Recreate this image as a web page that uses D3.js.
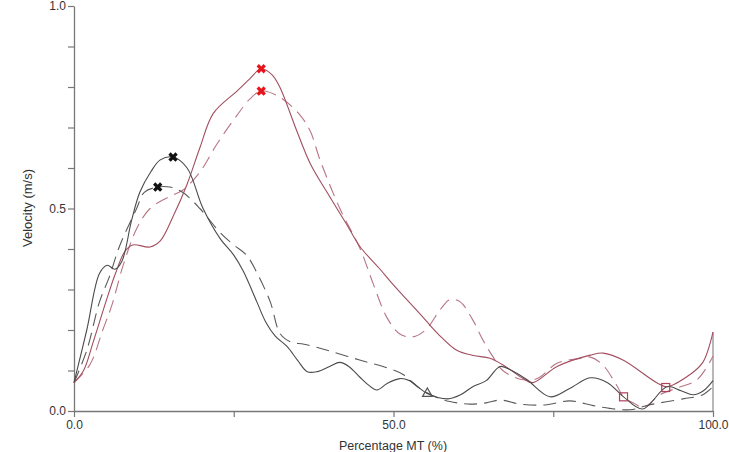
<!DOCTYPE html>
<html><head><meta charset="utf-8">
<script src="https://cdn.jsdelivr.net/npm/d3@7"></script>
<style>body{margin:0;background:#fff}svg{display:block}text{font-family:"Liberation Sans",Arial,sans-serif;fill:#333}</style>
</head><body><div id="chart"></div>
<script>
const pctMT_blackSolid = [0,2,4,5.2,6.4,7.5,9,10.3,12,13.5,15.5,17.7,20.2,22.9,25,26.5,28.6,30,31.5,33.3,35,36.5,38,40,41.6,43,44.7,46,47.4,49,51,52.5,55.2,58.5,60.5,62.4,64.5,66.7,68.5,70.9,74.5,77.5,80.8,83.5,86,89,92.8,95,96.9,98.5,100];
const vel_blackSolid   = [0.07,0.2,0.34,0.36,0.35,0.37,0.47,0.54,0.59,0.62,0.627,0.60,0.50,0.425,0.385,0.345,0.27,0.22,0.185,0.16,0.125,0.097,0.097,0.11,0.12,0.11,0.084,0.065,0.052,0.068,0.08,0.075,0.044,0.03,0.04,0.06,0.075,0.11,0.1,0.077,0.035,0.055,0.082,0.07,0.035,0.005,0.06,0.05,0.04,0.05,0.075];

const pctMT_blackDashed = [0,2,4,5.5,7.2,9.8,11,13.1,15,17,19.7,22.9,25,27,28.5,30.7,32.3,34,36,39.6,44.7,49.5,51.5,54,57.3,60,62,64.5,66.7,69.8,73.7,77.6,80,82.3,87,90,95.3,98.4,100];
const vel_blackDashed   = [0.07,0.15,0.27,0.33,0.41,0.50,0.54,0.553,0.553,0.54,0.50,0.44,0.41,0.385,0.345,0.27,0.19,0.17,0.165,0.15,0.126,0.104,0.09,0.057,0.03,0.02,0.017,0.02,0.027,0.017,0.015,0.025,0.018,0.01,0.003,0.015,0.03,0.04,0.06];

const pctMT_redSolid = [0,1.5,3,5,6.5,8,9.2,11.9,13.5,15.5,17.7,19.7,21.8,25.5,27.5,29.3,31,32.2,34.9,37,39.6,42.7,44.8,47.9,49.5,51.5,54.6,57,59.9,62.5,65.1,67.5,70.3,71.8,75.6,80.8,82.8,85.9,91.2,92.8,96.4,98.4,100];
const vel_redSolid   = [0.07,0.1,0.17,0.27,0.34,0.395,0.41,0.405,0.42,0.48,0.56,0.65,0.735,0.79,0.82,0.845,0.83,0.80,0.69,0.61,0.54,0.46,0.405,0.35,0.32,0.285,0.232,0.19,0.15,0.137,0.13,0.11,0.08,0.07,0.11,0.138,0.143,0.126,0.07,0.06,0.09,0.12,0.195];

const pctMT_redDashed = [0,2.5,4.5,5.9,7.7,9.8,11.9,15,17,19.7,22.4,25.5,27.5,29.3,32.2,35.4,37,38.5,41.6,44.8,46.8,49,51,53,55,57.3,58.8,60.4,62.4,64,65.6,67.1,70.3,72.5,75.6,79.2,80.8,82.8,84.9,86,88.1,89,91.7,94.4,97.5,100];
const vel_redDashed   = [0.07,0.115,0.2,0.26,0.36,0.45,0.50,0.53,0.545,0.59,0.66,0.73,0.77,0.79,0.775,0.73,0.69,0.62,0.50,0.40,0.315,0.23,0.19,0.183,0.2,0.25,0.275,0.27,0.225,0.175,0.133,0.10,0.077,0.08,0.118,0.13,0.133,0.113,0.064,0.035,0.015,0.007,0.04,0.057,0.077,0.135];

const peakX_pct = [15.5,13.1];      const peakX_vel = [0.627,0.553];   // black peaks
const peakR_pct = [29.3,29.3];      const peakR_vel = [0.845,0.79];    // red peaks
const tri_pct = [55.3];             const tri_vel = [0.043];
const sq_pct = [86,92.6];           const sq_vel = [0.035,0.058];

const xTickVals = [0,25,50,75,100];
const xTickLabels = ["0.0","","50.0","","100.0"];
const yTickVals = [0,0.1,0.2,0.3,0.4,0.5,0.6,0.7,0.8,0.9,1.0];
const yTickLabels = ["0.0","","","","","0.5","","","","","1.0"];

const W=729,H=452;
const x = d3.scaleLinear().domain([0,100]).range([74,713]);
const y = d3.scaleLinear().domain([0,1]).range([411,6]);
const svg = d3.select("#chart").append("svg").attr("width",W).attr("height",H);

const yAxis = d3.axisLeft(y).tickValues(yTickVals).tickFormat((d,i)=>yTickLabels[i]).tickSize(6).tickSizeOuter(0);
const gy = svg.append("g").attr("transform","translate(74,0)").call(yAxis);
const xAxis = d3.axisBottom(x).tickValues(xTickVals).tickFormat((d,i)=>xTickLabels[i]).tickSize(6).tickSizeOuter(0);
const gx = svg.append("g").attr("transform","translate(0,411)").call(xAxis);
[gx,gy].forEach(g=>{
  g.select(".domain").attr("stroke","#777").attr("stroke-width",1.3);
  g.selectAll(".tick line").attr("stroke","#777").attr("stroke-width",1.2);
  g.selectAll(".tick text").attr("font-size",12).attr("fill","#333").style("font-family","Liberation Sans, Arial, sans-serif");
});
gy.selectAll(".tick text").attr("x",-8);
gx.selectAll(".tick text").attr("y",9);

svg.append("text").attr("x",393).attr("y",450).attr("text-anchor","middle").attr("font-size",12.5).text("Percentage MT (%)");
svg.append("text").attr("transform","translate(32,208) rotate(-90)").attr("text-anchor","middle").attr("font-size",13).text("Velocity (m/s)");

svg.append("line").attr("x1",x(100)).attr("x2",x(100)).attr("y1",y(0)).attr("y2",y(vel_redSolid[vel_redSolid.length-1])).attr("stroke","#888").attr("stroke-width",1.2);

const line = d3.line().x(d=>x(d[0])).y(d=>y(d[1])).curve(d3.curveCatmullRom.alpha(0.5));
const series = [
  {px:pctMT_redDashed, v:vel_redDashed, color:"#b87584", dash:"13,7"},
  {px:pctMT_blackDashed, v:vel_blackDashed, color:"#5a5a5a", dash:"13,7"},
  {px:pctMT_redSolid, v:vel_redSolid, color:"#a24e60", dash:null},
  {px:pctMT_blackSolid, v:vel_blackSolid, color:"#4a4a4a", dash:null},
];
series.forEach(s=>{
  svg.append("path").datum(d3.zip(s.px,s.v)).attr("d",line).attr("fill","none")
    .attr("stroke",s.color).attr("stroke-width",1.1).attr("stroke-dasharray",s.dash);
});

const xSym = d3.symbol().type(d3.symbolCross).size(55);
function drawX(pcts, vels, color){
  svg.selectAll(null).data(d3.zip(pcts,vels)).enter().append("path").attr("d",xSym)
    .attr("transform",d=>`translate(${x(d[0])},${y(d[1])}) rotate(45)`).attr("fill",color);
}
drawX(peakX_pct,peakX_vel,"#111");
drawX(peakR_pct,peakR_vel,"#e8141c");

svg.selectAll(null).data(d3.zip(tri_pct,tri_vel)).enter().append("path")
  .attr("d",d3.symbol().type(d3.symbolTriangle).size(40))
  .attr("transform",d=>`translate(${x(d[0])},${y(d[1])})`).attr("fill","none").attr("stroke","#555").attr("stroke-width",1.2);
svg.selectAll(null).data(d3.zip(sq_pct,sq_vel)).enter().append("rect")
  .attr("x",d=>x(d[0])-4).attr("y",d=>y(d[1])-4).attr("width",8).attr("height",8)
  .attr("fill","none").attr("stroke","#b0405c").attr("stroke-width",1.2);
</script></body></html>
